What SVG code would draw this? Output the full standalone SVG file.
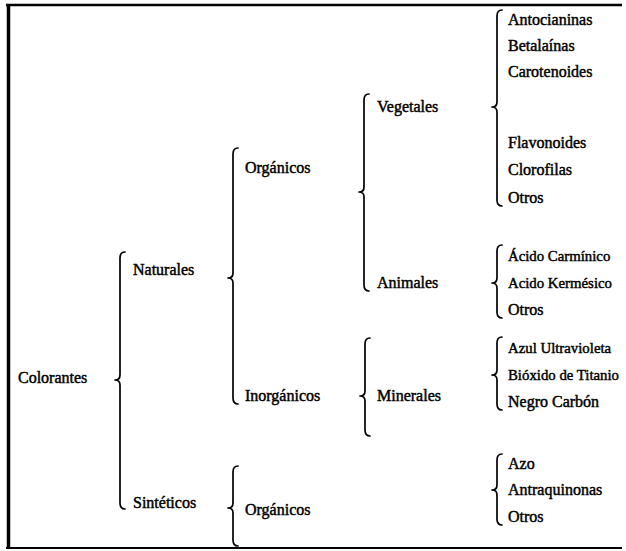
<svg xmlns="http://www.w3.org/2000/svg" width="626" height="551" viewBox="0 0 626 551">
<style>
text{font-family:"Liberation Serif","Times New Roman",serif;font-size:16px;fill:#000;stroke:#000;stroke-width:0.45}
.sm{font-size:14.8px}
.br{fill:none;stroke:#000;stroke-width:1.7;stroke-linecap:round;stroke-linejoin:round}
.frame{fill:none;stroke:#000}
</style>
<rect width="626" height="551" fill="#fff"/>
<g id="frame">
<line class="frame" x1="6" y1="5" x2="622" y2="5" stroke-width="2.5"/>
<line class="frame" x1="8.5" y1="4" x2="8.5" y2="549" stroke-width="3.5"/>
<line class="frame" x1="6" y1="548" x2="622" y2="548" stroke-width="2"/>
</g>
<g id="connectors">
<path class="br" d="M125,252 Q120,252 120,258 L120,375 Q120,380 115,380 Q120,380 120,385 L120,503 Q120,509 125,509"/>
<path class="br" d="M238,148 Q233,148 233,154 L233,273 Q233,278 228,278 Q233,278 233,283 L233,398 Q233,404 238,404"/>
<path class="br" d="M238,466 Q233,466 233,472 L233,503 Q233,508 228,508 Q233,508 233,513 L233,540 Q233,546 238,546"/>
<path class="br" d="M369,94 Q364,94 364,100 L364,187 Q364,192 359,192 Q364,192 364,197 L364,285 Q364,291 369,291"/>
<path class="br" d="M370,338 Q365,338 365,344 L365,391 Q365,396 360,396 Q365,396 365,401 L365,430 Q365,436 370,436"/>
<path class="br" d="M502,10 Q497,10 497,16 L497,102 Q497,107 492,107 Q497,107 497,112 L497,200 Q497,206 502,206"/>
<path class="br" d="M502,245 Q497,245 497,251 L497,278 Q497,283 492,283 Q497,283 497,288 L497,312 Q497,318 502,318"/>
<path class="br" d="M502,337 Q497,337 497,343 L497,370 Q497,375 492,375 Q497,375 497,380 L497,404 Q497,410 502,410"/>
<path class="br" d="M502,454 Q497,454 497,460 L497,485 Q497,490 492,490 Q497,490 497,495 L497,519 Q497,525 502,525"/>
</g>
<g id="n-colorantes"><text x="18" y="383">Colorantes</text></g>
<g id="n-naturales"><text x="133" y="275">Naturales</text></g>
<g id="n-sinteticos"><text x="133" y="508">Sintéticos</text></g>
<g id="n-organicos"><text x="245" y="173">Orgánicos</text></g>
<g id="n-inorganicos"><text x="245" y="401">Inorgánicos</text></g>
<g id="n-organicos2"><text x="245" y="515">Orgánicos</text></g>
<g id="n-vegetales"><text x="377" y="112">Vegetales</text></g>
<g id="n-animales"><text x="377" y="288">Animales</text></g>
<g id="n-minerales"><text x="377" y="401">Minerales</text></g>
<g id="n-antocianinas"><text x="508" y="25">Antocianinas</text></g>
<g id="n-betalainas"><text x="508" y="51">Betalaínas</text></g>
<g id="n-carotenoides"><text x="508" y="77">Carotenoides</text></g>
<g id="n-flavonoides"><text x="508" y="148">Flavonoides</text></g>
<g id="n-clorofilas"><text x="508" y="175">Clorofilas</text></g>
<g id="n-otros1"><text x="508" y="203">Otros</text></g>
<g id="n-carminico"><text class="sm" x="508" y="261">Ácido Carmínico</text></g>
<g id="n-kermesico"><text class="sm" x="508" y="288">Acido Kermésico</text></g>
<g id="n-otros2"><text x="508" y="315">Otros</text></g>
<g id="n-azul"><text class="sm" x="508" y="353">Azul Ultravioleta</text></g>
<g id="n-bioxido"><text class="sm" x="508" y="380">Bióxido de Titanio</text></g>
<g id="n-negro"><text x="508" y="407">Negro Carbón</text></g>
<g id="n-azo"><text x="508" y="469">Azo</text></g>
<g id="n-antraquinonas"><text x="508" y="495">Antraquinonas</text></g>
<g id="n-otros3"><text x="508" y="522">Otros</text></g>
</svg>
